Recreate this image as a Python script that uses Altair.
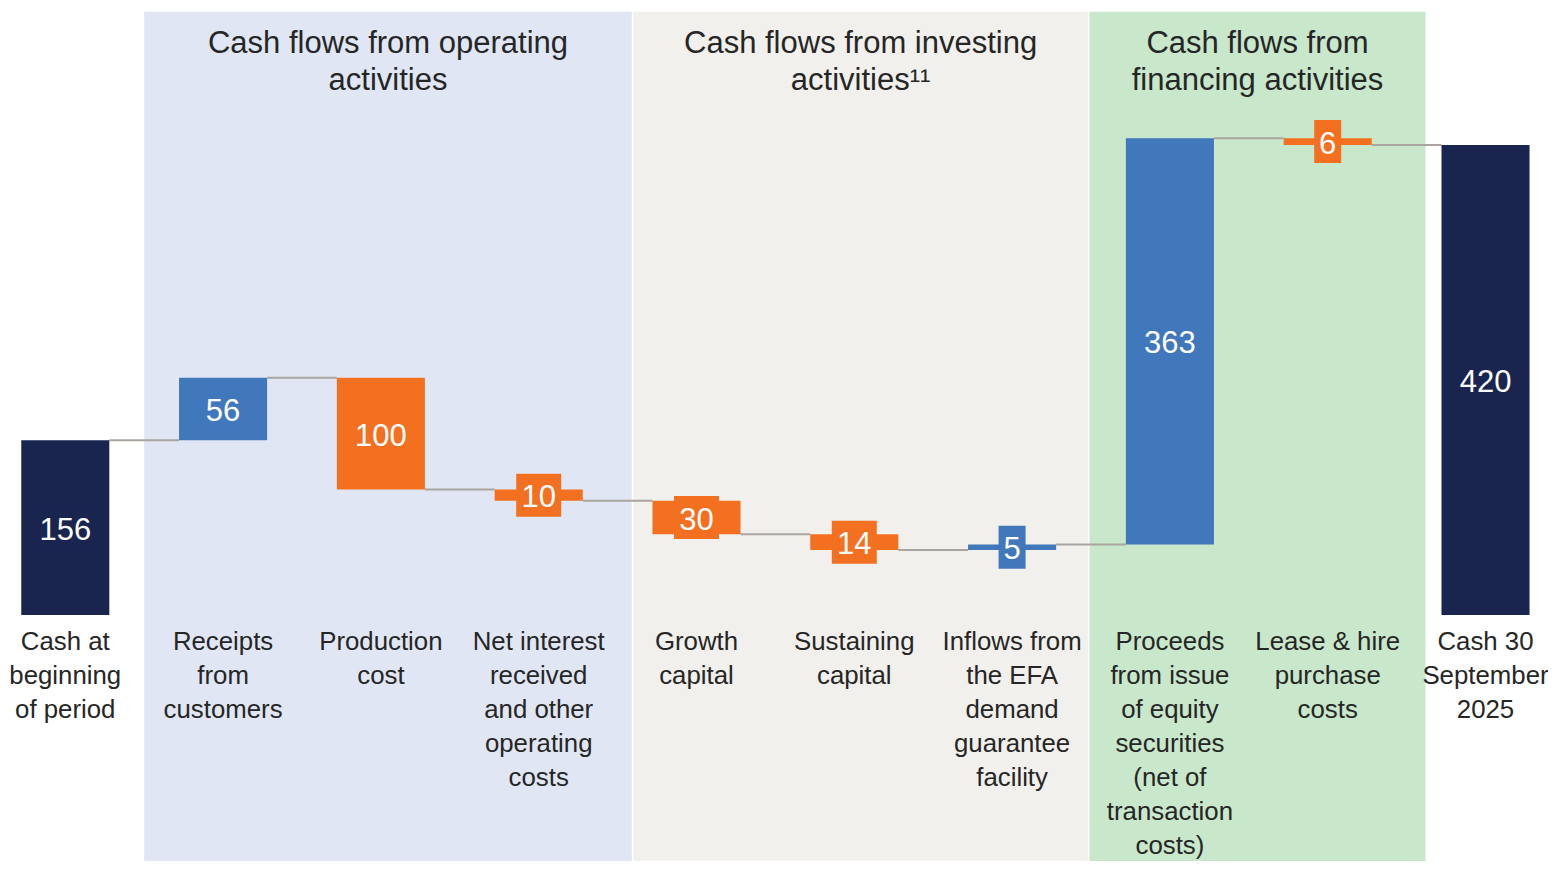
import altair as alt
import pandas as pd

# ---- data ----
categories = [
    "Cash at\nbeginning\nof period",
    "Receipts\nfrom\ncustomers",
    "Production\ncost",
    "Net interest\nreceived\nand other\noperating\ncosts",
    "Growth\ncapital",
    "Sustaining\ncapital",
    "Inflows from\nthe EFA\ndemand\nguarantee\nfacility",
    "Proceeds\nfrom issue\nof equity\nsecurities\n(net of\ntransaction\ncosts)",
    "Lease & hire\npurchase\ncosts",
    "Cash 30\nSeptember\n2025",
]
values = [156, 56, -100, -10, -30, -14, 5, 363, -6, 420]
kinds = ["total", "up", "down", "down", "down", "down", "up", "up", "down", "total"]

section_titles = [
    "Cash flows from operating\nactivities",
    "Cash flows from investing\nactivities\u00b9\u00b9",
    "Cash flows from\nfinancing activities",
]
section_start = [0.5, 3.6, 6.49]
section_end = [3.59, 6.48, 8.62]
section_colors = ["#e0e6f4", "#f1f0ec", "#c8e7cb"]

kind_colors = {"total": "#19254f", "up": "#4177bb", "down": "#f37021"}

# ---- styles ----
FONT = "Liberation Sans"
TEXT_COLOR = "#262626"
STEP_PX = 157.8
BAR_HALF = 0.279
BOX_HALF_H = 19.2
LABEL_Y = -13.2
TITLE_Y = 523.2
BAND_TOP = 539
Y_TOP = 542.4
Y_BOTTOM = -219.9
X_LEFT = -0.363
X_RIGHT = 9.396

# ---- build tables ----
rows = []
running = 0
for i, (c, v, k) in enumerate(zip(categories, values, kinds)):
    if k == "total":
        s, e = 0, v
    else:
        s, e = running, running + v
    running = e
    rows.append({
        "idx": i, "cat": c, "start": s, "end": e,
        "label": str(abs(v)), "color": kind_colors[k],
        "digits": len(str(abs(v))),
    })
bars = pd.DataFrame(rows)

conn = pd.DataFrame({
    "idx": list(range(len(rows) - 1)),
    "level": [r["end"] for r in rows[:-1]],
})

bands = pd.DataFrame({
    "title": section_titles, "x0": section_start, "x1": section_end,
    "color": section_colors,
})

xs = alt.Scale(domain=[X_LEFT, X_RIGHT], nice=False, zero=False)
ys = alt.Scale(domain=[Y_BOTTOM, Y_TOP], nice=False, zero=False)

band_layer = alt.Chart(bands).mark_rect().encode(
    x=alt.X("x0:Q", scale=xs, axis=None),
    x2="x1:Q",
    y=alt.Y("top:Q", scale=ys, axis=None),
    y2="bottom:Q",
    color=alt.Color("color:N", scale=None),
).transform_calculate(top=str(BAND_TOP), bottom=str(Y_BOTTOM))

title_layer = alt.Chart(bands).mark_text(
    font=FONT, fontSize=31, color=TEXT_COLOR, baseline="top",
    align="center", lineBreak="\n", lineHeight=37,
).encode(
    x=alt.X("xc:Q", scale=xs),
    y=alt.Y("ty:Q", scale=ys),
    text="title:N",
).transform_calculate(xc="(datum.x0 + datum.x1) / 2", ty=str(TITLE_Y))

bar_layer = alt.Chart(bars).mark_rect().encode(
    x=alt.X("xa:Q", scale=xs),
    x2="xb:Q",
    y=alt.Y("start:Q", scale=ys),
    y2="end:Q",
    color=alt.Color("color:N", scale=None),
).transform_calculate(xa=f"datum.idx - {BAR_HALF}", xb=f"datum.idx + {BAR_HALF}")

conn_layer = alt.Chart(conn).mark_rule(color="#aaa59f", strokeWidth=2).encode(
    x=alt.X("xa:Q", scale=xs),
    x2="xb:Q",
    y=alt.Y("level:Q", scale=ys),
).transform_calculate(xa=f"datum.idx + {BAR_HALF}", xb=f"datum.idx + 1 - {BAR_HALF}")

box_layer = alt.Chart(bars).mark_rect().encode(
    x=alt.X("bx0:Q", scale=xs),
    x2="bx1:Q",
    y=alt.Y("by0:Q", scale=ys),
    y2="by1:Q",
    color=alt.Color("color:N", scale=None),
).transform_calculate(
    mid="(datum.start + datum.end) / 2",
    hw=f"(datum.digits * 18 + 9) / {STEP_PX} / 2",
    bx0="datum.idx - datum.hw",
    bx1="datum.idx + datum.hw",
    by0=f"datum.mid - {BOX_HALF_H}",
    by1=f"datum.mid + {BOX_HALF_H}",
)

value_layer = alt.Chart(bars).mark_text(
    font=FONT, fontSize=31, color="white", baseline="middle", align="center", dy=3,
).encode(
    x=alt.X("idx:Q", scale=xs),
    y=alt.Y("mid:Q", scale=ys),
    text="label:N",
).transform_calculate(mid="(datum.start + datum.end) / 2")

cat_layer = alt.Chart(bars).mark_text(
    font=FONT, fontSize=25.8, color=TEXT_COLOR, baseline="top", align="center",
    lineBreak="\n", lineHeight=34,
).encode(
    x=alt.X("idx:Q", scale=xs),
    y=alt.Y("ly:Q", scale=ys),
    text="cat:N",
).transform_calculate(ly=str(LABEL_Y))

chart = alt.layer(
    band_layer, title_layer, conn_layer, bar_layer, box_layer, value_layer, cat_layer
).properties(
    width=1540, height=853, padding=0,
    autosize=alt.AutoSizeParams(type="none"),
).configure_view(stroke=None)

chart.save("out.html", embed_options={"renderer": "svg", "actions": False})
